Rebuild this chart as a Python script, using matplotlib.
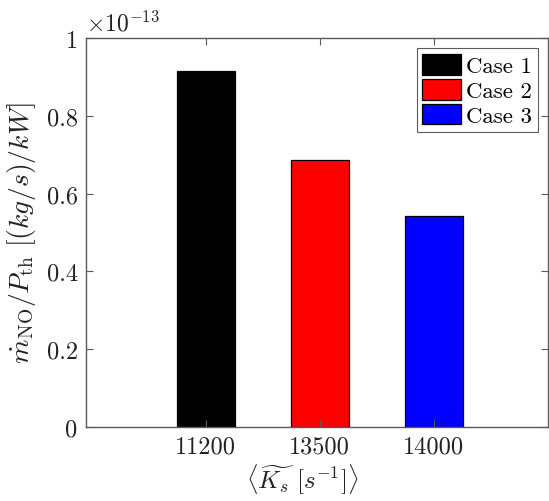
import numpy as np
import matplotlib
matplotlib.use("Agg")
from matplotlib import pyplot as plt
from matplotlib.patches import Patch

plt.rcParams['font.family'] = 'serif'
plt.rcParams['font.serif'] = ['cmr10', 'DejaVu Serif']
plt.rcParams['mathtext.fontset'] = 'cm'
plt.rcParams['axes.formatter.use_mathtext'] = True

# data (in units of 1e-13 (kg/s)/kW)
strain = ["11200", "13500", "14000"]
cases = ["Case 1", "Case 2", "Case 3"]
no_per_power = [0.916, 0.686, 0.541]
colors = ["black", "red", "blue"]
yticks = [0, 0.2, 0.4, 0.6, 0.8, 1]
ytick_labels = ["0", "0.2", "0.4", "0.6", "0.8", "1"]

fig = plt.figure(figsize=(5.49, 5.02), dpi=100)
ax = fig.add_axes([0.1566, 0.148, 0.8414, 0.774])

pos = np.arange(1, len(strain) + 1)
for p, v, c in zip(pos, no_per_power, colors):
    ax.bar(p, v, width=0.51, color=c, edgecolor="black", linewidth=0.9)

ax.set_xlim(-0.05, 4.0)
ax.set_ylim(0, 1)
ax.set_xticks(pos)
ax.set_xticklabels(strain)
ax.set_yticks(yticks)
ax.set_yticklabels(ytick_labels)

axcol = "#5a5a5a"
for s in ax.spines.values():
    s.set_color(axcol)
    s.set_linewidth(1.0)
ax.tick_params(direction="in", top=True, right=True, length=5, width=0.8,
               color=axcol, labelsize=17.5, labelcolor="#222222", pad=6)

ax.set_xlabel(r"$\langle\widetilde{K_s}\ [s^{-1}]\rangle$", fontsize=18, color="#222222")
ax.xaxis.set_label_coords(0.468, -0.09, transform=ax.transAxes)
ax.xaxis.label.set_va("top")
ax.set_ylabel(r"$\dot{m}_{\rm NO}/P_{\rm th}\ [(kg/s)/kW]$", fontsize=20, color="#222222", labelpad=6)
ax.text(0.0, 1.008, r"$\times10^{-13}$", transform=ax.transAxes, fontsize=17,
        color="#222222", ha="left", va="bottom")

handles = [Patch(facecolor=c, edgecolor="black", linewidth=0.9) for c in colors]
leg = ax.legend(handles, cases, loc="upper right", fontsize=16.5, frameon=True,
                fancybox=False, edgecolor="#333333", handlelength=1.7, handleheight=1.0,
                handletextpad=0.2, labelspacing=0.12, borderpad=0.25,
                borderaxespad=0.45)
leg.get_frame().set_linewidth(0.8)

fig.savefig("out.png", dpi=100)
